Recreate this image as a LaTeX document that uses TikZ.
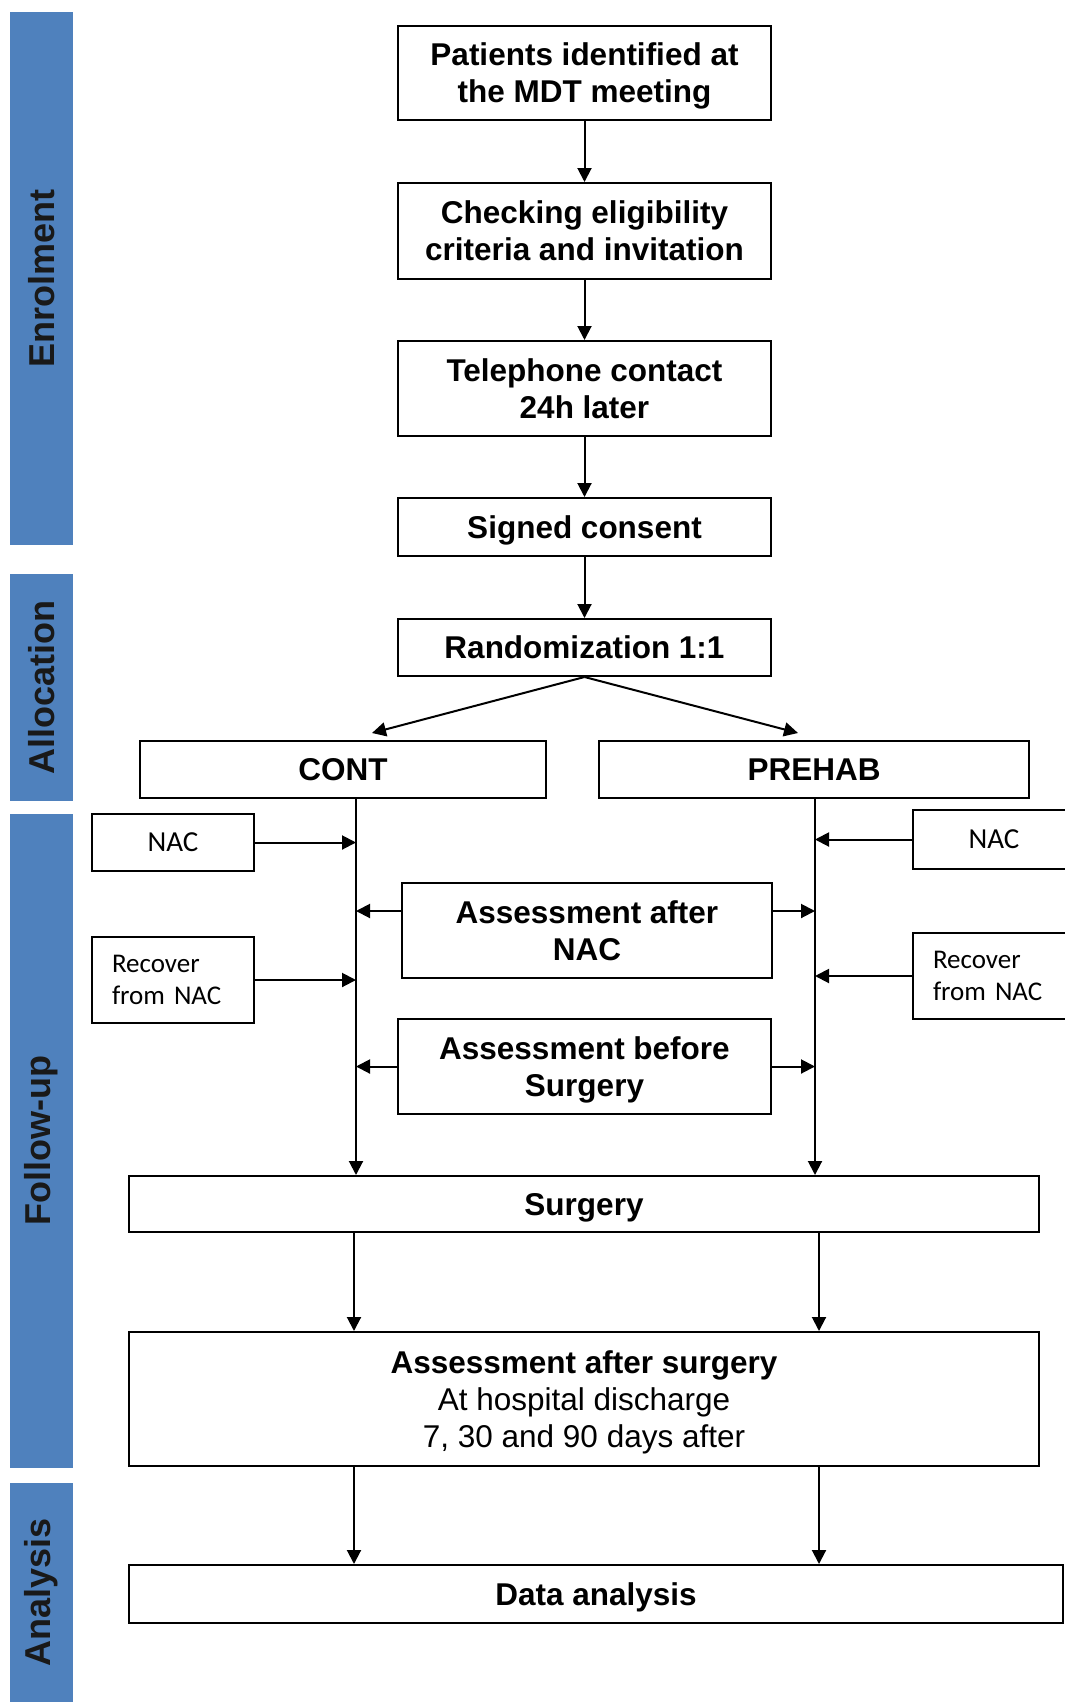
\documentclass[tikz,border=0pt]{standalone}
\usepackage{fontspec}
\setmainfont{Liberation Sans}
\newfontfamily\calibri{Carlito}
\usetikzlibrary{arrows.meta}
\definecolor{phaseblue}{HTML}{4F81BD}

\tikzset{
  box/.style={draw, line width=1pt, align=center, inner sep=0pt, text depth=0pt, font=\fontsize{15.75}{18.5}\selectfont\bfseries},
  sidebox/.style={draw, line width=1pt, inner sep=0pt, minimum width=81pt, font=\calibri\fontsize{14.5}{15.75}\selectfont},
  recbox/.style={draw, line width=1pt, inner xsep=10pt, inner ysep=0pt, text width=61pt, align=left, minimum height=43pt, font=\calibri\fontsize{13.5}{15.75}\selectfont},
  phase/.style={fill=phaseblue, rotate=90, minimum height=31.5pt, inner sep=0pt, text=black!90, font=\fontsize{18}{20}\selectfont\bfseries},
  flow/.style={-{Triangle[length=7pt,width=7pt]}, line width=1pt}
}

\begin{document}
\begin{tikzpicture}[x=0.5pt, y=-0.5pt]
  \useasboundingbox (0,0) rectangle (1065,1702);
  \node[phase, minimum width=266.5pt] (enrol) at (41.5,278.5) {Enrolment};
  \node[phase, minimum width=113.5pt] (alloc) at (41.5,687.5) {Allocation};
  \node[phase, minimum width=327pt] (follow) at (41.5,1141) {Follow-up};
  \node[phase, minimum width=109.5pt] (analysis) at (41.5,1592.5) {Analysis};

  \node[box, minimum width=186.5pt, minimum height=47pt] (patients) at (584.5,73) {Patients identified at\\the MDT meeting};
  \node[box, minimum width=186.5pt, minimum height=48pt] (checking) at (584.5,231) {Checking eligibility\\criteria and invitation};
  \node[box, minimum width=186.5pt, minimum height=47.5pt] (phone) at (584.5,388.5) {Telephone contact\\24h later};
  \node[box, minimum width=186.5pt, minimum height=29pt] (consent) at (584.5,527) {Signed consent};
  \node[box, minimum width=186.5pt, minimum height=28.5pt] (random) at (584.5,647.5) {Randomization 1:1};
  \node[box, minimum width=203pt, minimum height=28.5pt] (cont) at (343,769.5) {CONT};
  \node[box, minimum width=215pt, minimum height=28.5pt] (prehab) at (814,769.5) {PREHAB};
  \node[sidebox, minimum height=28.5pt] (nacL) at (173,842.5) {NAC};
  \node[recbox] (recL) at (173,980) {Recover\\from NAC};
  \node[sidebox, minimum height=29.5pt] (nacR) at (994,839.5) {NAC};
  \node[recbox] (recR) at (994,976) {Recover\\from NAC};
  \node[box, minimum width=185pt, minimum height=47.5pt] (afternac) at (587,930.5) {Assessment after\\NAC};
  \node[box, minimum width=186.5pt, minimum height=47.5pt] (beforesurg) at (584.5,1066.5) {Assessment before\\Surgery};
  \node[box, minimum width=455pt, minimum height=28pt] (surgery) at (584,1204) {Surgery};
  \node[box, minimum width=455pt, minimum height=67pt] (aftersurg) at (584,1399) {Assessment after surgery\\\mdseries At hospital discharge\\\mdseries 7, 30 and 90 days after};
  \node[box, minimum width=467pt, minimum height=29pt] (data) at (596,1594) {Data analysis};

  \coordinate (contin) at (372,733);
  \coordinate (prehabin) at (798,733);
  \coordinate (contline) at (356,0);
  \coordinate (prehabline) at (815,0);
  \coordinate (contlow) at (354,0);
  \coordinate (prehablow) at (819,0);
  \coordinate (anacL) at ([yshift=9.75pt]afternac.west);
  \coordinate (anacR) at ([yshift=9.75pt]afternac.east);

  \draw[flow] (patients) -- (checking);
  \draw[flow] (checking) -- (phone);
  \draw[flow] (phone) -- (consent);
  \draw[flow] (consent) -- (random);
  \draw[flow] (random.south) -- (contin);
  \draw[flow] (random.south) -- (prehabin);
  \draw[flow] (cont.south -| contline) -- (surgery.north -| contline);
  \draw[flow] (prehab.south -| prehabline) -- (surgery.north -| prehabline);
  \draw[flow] (nacL) -- (nacL -| contline);
  \draw[flow] (recL) -- (recL -| contline);
  \draw[flow] (nacR) -- (nacR -| prehabline);
  \draw[flow] (recR) -- (recR -| prehabline);
  \draw[flow] (anacL) -- (anacL -| contline);
  \draw[flow] (anacR) -- (anacR -| prehabline);
  \draw[flow] (beforesurg.west) -- (beforesurg.west -| contline);
  \draw[flow] (beforesurg.east) -- (beforesurg.east -| prehabline);
  \draw[flow] (surgery.south -| contlow) -- (aftersurg.north -| contlow);
  \draw[flow] (surgery.south -| prehablow) -- (aftersurg.north -| prehablow);
  \draw[flow] (aftersurg.south -| contlow) -- (data.north -| contlow);
  \draw[flow] (aftersurg.south -| prehablow) -- (data.north -| prehablow);
\end{tikzpicture}
\end{document}
